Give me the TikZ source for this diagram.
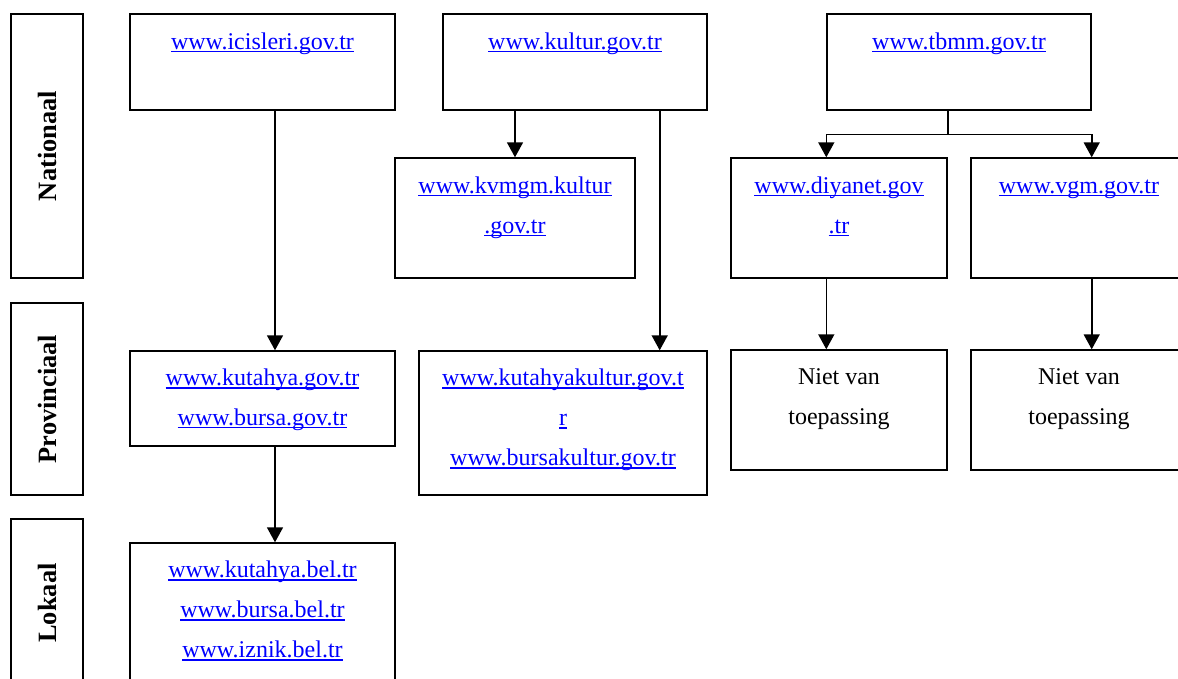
\documentclass[tikz,border=0pt]{standalone}
\usepackage{fontspec}
\setmainfont{Liberation Serif}
\usetikzlibrary{arrows.meta,fit}
\definecolor{linkblue}{RGB}{0,0,255}
\newsavebox{\linkbox}
\newcommand{\weblink}[1]{{\color{linkblue}\sbox{\linkbox}{#1}%
    \rlap{\rule[-1.6pt]{\wd\linkbox}{0.7pt}}\usebox{\linkbox}}}
\tikzset{
    node style box/.style={draw,line width=0.7pt,inner sep=0pt},
    node style lvl/.style={rotate=90,inner sep=0pt,font=\fontsize{13.2}{15}\selectfont\bfseries},
    node style txt/.style={anchor=base,align=center,inner sep=0pt,font=\fontsize{12}{20}\selectfont},
    arrow style down/.style={->,line width=0.8pt},
}

\begin{document}
\begin{tikzpicture}[x=0.5pt,y=-0.5pt,>={Triangle[width=8pt,length=7.5pt]}]
\useasboundingbox (0,0) rectangle (1178,679);
\clip (0,0) rectangle (1178,679);
% niveaus
\node [node style box,fit={(11,14) (83,278)}] (nat) {};
\node [node style box,fit={(11,303) (83,495)}] (prov) {};
\node [node style box,fit={(11,519) (83,687)}] (lok) {};
\node [node style lvl] (nat-t) at (nat) {Nationaal};
\node [node style lvl] (prov-t) at (prov) {Provinciaal};
\node [node style lvl] (lok-t) at (lok) {Lokaal};
% kaders
\node [node style box,fit={(130,14) (395,110)}] (icis) {};
\node [node style box,fit={(130,351) (395,446)}] (kutgov) {};
\node [node style box,fit={(130,543) (395,700)}] (kutbel) {};
\node [node style box,fit={(443,14) (707,110)}] (kultur) {};
\node [node style box,fit={(395,158) (635,278)}] (kvmgm) {};
\node [node style box,fit={(419,351) (707,495)}] (kutkul) {};
\node [node style box,fit={(827,14) (1091,110)}] (tbmm) {};
\node [node style box,fit={(731,158) (947,278)}] (diyanet) {};
\node [node style box,fit={(971,158) (1187,278)}] (vgm) {};
\node [node style box,fit={(731,350) (947,470)}] (niet1) {};
\node [node style box,fit={(971,350) (1187,470)}] (niet2) {};
% teksten (base = laatste regel)
\node [node style txt] (icis-t) at ([yshift=-18pt]icis.north)
    {\weblink{www.icisleri.gov.tr}};
\node [node style txt] (kutgov-t) at ([yshift=-37.5pt]kutgov.north)
    {\weblink{www.kutahya.gov.tr}\\\weblink{www.bursa.gov.tr}};
\node [node style txt] (kutbel-t) at ([yshift=-57.5pt]kutbel.north)
    {\weblink{www.kutahya.bel.tr}\\\weblink{www.bursa.bel.tr}\\\weblink{www.iznik.bel.tr}};
\node [node style txt] (kultur-t) at ([yshift=-18pt]kultur.north)
    {\weblink{www.kultur.gov.tr}};
\node [node style txt] (kvmgm-t) at ([yshift=-38pt]kvmgm.north)
    {\weblink{www.kvmgm.kultur}\\\weblink{.gov.tr}};
\node [node style txt] (kutkul-t) at ([yshift=-57.5pt]kutkul.north)
    {\weblink{www.kutahyakultur.gov.t}\\\weblink{r}\\\weblink{www.bursakultur.gov.tr}};
\node [node style txt] (tbmm-t) at ([yshift=-18pt]tbmm.north)
    {\weblink{www.tbmm.gov.tr}};
\node [node style txt] (diyanet-t) at ([yshift=-38pt]diyanet.north)
    {\weblink{www.diyanet.gov}\\\weblink{.tr}};
\node [node style txt] (vgm-t) at ([yshift=-18pt]vgm.north)
    {\weblink{www.vgm.gov.tr}};
\node [node style txt] (niet1-t) at ([yshift=-37.5pt]niet1.north)
    {Niet van\\toepassing};
\node [node style txt] (niet2-t) at ([yshift=-37.5pt]niet2.north)
    {Niet van\\toepassing};
% pijlen
\coordinate (ibreak) at ([xshift=6.25pt]icis.south);
\coordinate (kbreak) at ([xshift=-24pt]kultur.south east);
\path (tbmm.south -| diyanet.east) ++(0,24) coordinate (fork);
\draw [arrow style down] (ibreak) -- (ibreak |- kutgov.north);
\draw [arrow style down] (ibreak |- kutgov.south) -- (ibreak |- kutbel.north);
\draw [arrow style down] (kultur.south -| kvmgm.north) -- (kvmgm.north);
\draw [arrow style down] (kbreak) -- (kbreak |- kutkul.north);
\draw [line width=0.8pt] (tbmm.south -| fork) -- (fork);
\draw [arrow style down] (fork) -| (tbmm.south west |- diyanet.north);
\draw [arrow style down] (fork) -| (tbmm.south east |- vgm.north);
\draw [arrow style down] (tbmm.south west |- diyanet.south) -- (tbmm.south west |- niet1.north);
\draw [arrow style down] (tbmm.south east |- vgm.south) -- (tbmm.south east |- niet2.north);
\end{tikzpicture}
\end{document}
